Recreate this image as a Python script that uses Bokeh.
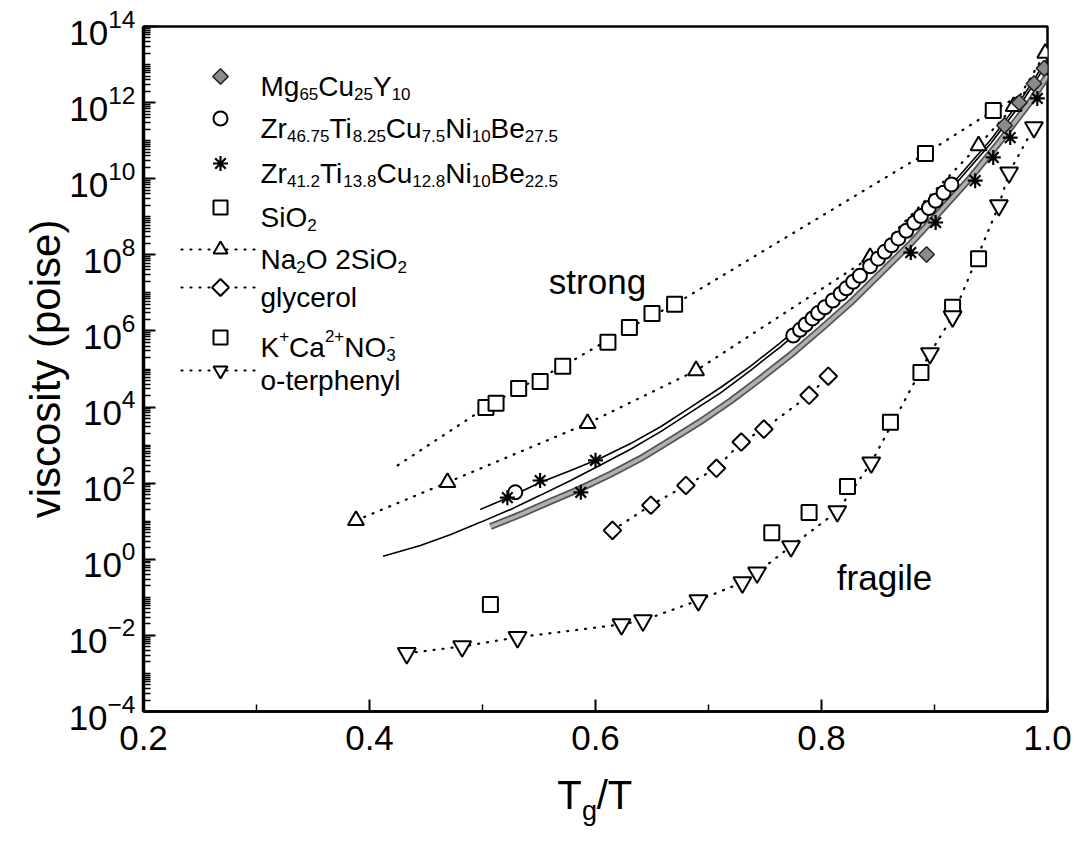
import numpy as np
from bokeh.plotting import figure
from bokeh.models import Range1d, FixedTicker, PrintfTickFormatter, Label, LinearAxis, CustomJSTickFormatter
from bokeh.core.properties import value
from bokeh.embed import file_html
from bokeh.resources import INLINE

FONT = "Liberation Sans"

# ---------------- data (x = Tg/T, values are log10 viscosity in poise) ----------------
mg_x = [0.893, 0.962, 0.975, 0.988, 0.997]
mg_log = [8.01, 11.4, 12.0, 12.5, 12.9]

mg_band_x = [0.507, 0.534, 0.560, 0.587, 0.613, 0.640, 0.666, 0.693, 0.720, 0.746, 0.773,
             0.799, 0.826, 0.852, 0.879, 0.905, 0.932, 0.958, 0.985, 1.0]
mg_band_log = [0.86, 1.18, 1.52, 1.86, 2.23, 2.65, 3.12, 3.62, 4.17, 4.75, 5.38,
               6.04, 6.75, 7.51, 8.30, 9.14, 10.03, 10.98, 12.03, 12.71]

vit4_x = [0.529, 0.775, 0.781, 0.786, 0.792, 0.797, 0.803, 0.810, 0.817, 0.822, 0.828, 0.834,
          0.843, 0.850, 0.856, 0.862, 0.868, 0.875, 0.882, 0.888, 0.895, 0.901, 0.908, 0.915]
vit4_log = [1.76, 5.88, 6.03, 6.17, 6.33, 6.47, 6.62, 6.80, 6.98, 7.12, 7.29, 7.45,
            7.70, 7.90, 8.08, 8.25, 8.43, 8.63, 8.84, 9.02, 9.23, 9.42, 9.63, 9.85]
vit4_fit_x = [0.412, 0.445, 0.472, 0.498, 0.525, 0.551, 0.578, 0.604, 0.631, 0.658, 0.684,
              0.711, 0.737, 0.764, 0.790, 0.817, 0.843, 0.870, 0.897, 0.923, 0.950, 0.976, 1.0]
vit4_fit_log = [0.08, 0.36, 0.65, 0.97, 1.31, 1.68, 2.07, 2.47, 2.89, 3.36, 3.86,
                4.38, 4.96, 5.59, 6.25, 6.93, 7.64, 8.38, 9.17, 10.01, 10.93, 11.95, 13.05]

vit1_x = [0.522, 0.551, 0.587, 0.600, 0.879, 0.901, 0.936, 0.952, 0.967, 0.991]
vit1_log = [1.62, 2.07, 1.76, 2.60, 8.06, 8.85, 9.95, 10.56, 11.08, 12.11]
vit1_fit_x = [0.498, 0.525, 0.551, 0.578, 0.604, 0.631, 0.658, 0.684, 0.711, 0.737, 0.764,
              0.790, 0.817, 0.843, 0.870, 0.897, 0.923, 0.950, 0.976, 1.0]
vit1_fit_log = [1.31, 1.65, 2.02, 2.33, 2.65, 3.04, 3.49, 3.99, 4.52, 5.07, 5.70,
                6.35, 7.04, 7.75, 8.48, 9.27, 10.11, 11.03, 12.06, 13.16]

sio2_x = [0.503, 0.512, 0.532, 0.551, 0.571, 0.611, 0.630, 0.650, 0.670, 0.892, 0.952]
sio2_log = [3.99, 4.10, 4.49, 4.67, 5.07, 5.70, 6.09, 6.46, 6.70, 10.66, 11.79]
sio2_fit_x = [0.425, 0.503, 0.532, 0.571, 0.630, 0.670, 0.892, 0.952, 1.0]
sio2_fit_log = [2.47, 3.99, 4.49, 5.07, 6.09, 6.70, 10.66, 11.79, 12.6]

na_x = [0.388, 0.469, 0.593, 0.689, 0.843, 0.939, 0.970, 0.998]
na_log = [1.02, 2.02, 3.57, 4.96, 7.93, 10.87, 11.9, 13.3]

gly_x = [0.615, 0.649, 0.680, 0.707, 0.729, 0.749, 0.789, 0.806]
gly_log = [0.76, 1.42, 1.94, 2.39, 3.08, 3.42, 4.31, 4.81]

kcn_x = [0.507, 0.756, 0.789, 0.823, 0.861, 0.888, 0.916, 0.939]
kcn_log = [-1.19, 0.70, 1.23, 1.91, 3.60, 4.91, 6.62, 7.90]

otp_x = [0.433, 0.482, 0.531, 0.623, 0.642, 0.691, 0.730, 0.743, 0.773, 0.814, 0.844,
         0.896, 0.916, 0.957, 0.966, 0.988]
otp_log = [-2.47, -2.29, -2.05, -1.71, -1.61, -1.08, -0.61, -0.35, 0.34, 1.26, 2.54,
           5.41, 6.38, 9.30, 10.16, 11.35]

y_major_exp = list(range(-4, 15, 2))
x_major = [0.2, 0.4, 0.6, 0.8, 1.0]
x_minor = [0.3, 0.5, 0.7, 0.9]

legend_rows = [
    [("Mg", "n"), ("65", "sub"), ("Cu", "n"), ("25", "sub"), ("Y", "n"), ("10", "sub")],
    [("Zr", "n"), ("46.75", "sub"), ("Ti", "n"), ("8.25", "sub"), ("Cu", "n"), ("7.5", "sub"),
     ("Ni", "n"), ("10", "sub"), ("Be", "n"), ("27.5", "sub")],
    [("Zr", "n"), ("41.2", "sub"), ("Ti", "n"), ("13.8", "sub"), ("Cu", "n"), ("12.8", "sub"),
     ("Ni", "n"), ("10", "sub"), ("Be", "n"), ("22.5", "sub")],
    [("SiO", "n"), ("2", "sub")],
    [("Na", "n"), ("2", "sub"), ("O 2SiO", "n"), ("2", "sub")],
    [("glycerol", "n")],
    [("K", "n"), ("+", "sup"), ("Ca", "n"), ("2+", "sup"), ("NO", "n"), ("3", "sub"), ("-", "supstack")],
    [("o-terphenyl", "n")],
]
legend_markers = ["mg", "circle", "asterisk", "square", "triangle", "diamond", "square", "inverted_triangle"]
legend_lines = [False, False, False, False, True, True, False, True]

# ---------------- layout ----------------
W, H = 1077, 847
FL, FR, FT, FB = 143, 1047, 26, 711


def xd(px):
    return 0.2 + (px - FL) * 0.8 / (FR - FL)


def yd(py):
    return 10 ** (14 - (py - FT) * 18.0 / (FB - FT))


def pw(a):
    return np.power(10.0, np.array(a, dtype=float))


p = figure(width=W, height=H, y_axis_type="log",
           x_range=Range1d(0.2, 1.0), y_range=Range1d(1e-4, 1e14),
           output_backend="svg", toolbar_location=None,
           min_border_left=FL, min_border_right=W - FR, min_border_top=FT, min_border_bottom=H - FB)
p.grid.visible = False
p.outline_line_color = "black"
p.outline_line_width = 2.5
p.background_fill_color = "white"
p.border_fill_color = "white"

p.yaxis.ticker = FixedTicker(
    ticks=[10.0 ** e for e in y_major_exp],
    minor_ticks=[k * 10.0 ** e for e in range(-4, 14) for k in range(1, 10) if not (k == 1 and e % 2 == 0)])
p.xaxis.ticker = FixedTicker(ticks=x_major, minor_ticks=x_minor)
p.xaxis.formatter = PrintfTickFormatter(format="%.1f")
for ax in (p.xaxis[0], p.yaxis[0]):
    ax.major_tick_in = 12
    ax.major_tick_out = 0
    ax.minor_tick_in = 7
    ax.minor_tick_out = 0
    ax.major_tick_line_width = 2
    ax.minor_tick_line_width = 1.5
    ax.axis_line_width = 2.5
    ax.major_label_text_font = FONT
    ax.major_label_text_font_size = "35px"
    ax.major_label_text_color = "black"
p.xaxis.axis_label = None
p.yaxis.axis_line_width = 3.5
p.yaxis.major_label_standoff = 8
p.xaxis.major_label_standoff = 14
p.yaxis.axis_label = "viscosity (poise)"
p.yaxis.axis_label_text_font = FONT
p.yaxis.axis_label_text_font_size = "42px"
p.yaxis.axis_label_text_font_style = "normal"
p.yaxis.axis_label_text_color = "black"
p.yaxis.axis_label_standoff = -3

# x-axis title "T_g/T" built from two extra label rows below the axis
xt_T, xt_g, xt_slash = xd(569), xd(589), xd(614)
axA = LinearAxis(ticker=FixedTicker(ticks=[xt_T, xt_slash]),
                 formatter=CustomJSTickFormatter(args=dict(c=xt_g), code="return tick < c ? 'T' : '/T'"),
                 axis_line_color=None, major_tick_line_color=None, minor_tick_line_color=None,
                 major_tick_in=0, major_tick_out=0, major_label_standoff=20,
                 major_label_text_font=FONT, major_label_text_font_size="40px", major_label_text_color="black")
axB = LinearAxis(ticker=FixedTicker(ticks=[xt_g]),
                 formatter=CustomJSTickFormatter(code="return 'g'"),
                 axis_line_color=None, major_tick_line_color=None, minor_tick_line_color=None,
                 major_tick_in=0, major_tick_out=0, major_label_standoff=-24,
                 major_label_text_font=FONT, major_label_text_font_size="27px", major_label_text_color="black")
p.add_layout(axA, "below")
p.add_layout(axB, "below")

DOT = dict(line_color="black", line_width=2.2, line_dash="1 8", line_cap="round")

# fits / curves
p.line(sio2_fit_x, pw(sio2_fit_log), **DOT)
p.line(na_x, pw(na_log), **DOT)
p.line(gly_x, pw(gly_log), **DOT)
p.line(otp_x, pw(otp_log), **DOT)
p.line(mg_band_x, pw(mg_band_log), line_color="#555555", line_width=7)
p.line(mg_band_x, pw(mg_band_log), line_color="#b0b0b0", line_width=3.5)
p.line(vit4_fit_x, pw(vit4_fit_log), line_color="black", line_width=1.6)
p.line(vit1_fit_x, pw(vit1_fit_log), line_color="black", line_width=1.6)

MK = dict(line_color="black", line_width=2, fill_color="white")
p.scatter(sio2_x, pw(sio2_log), marker="square", size=15, **MK)
p.scatter(kcn_x, pw(kcn_log), marker="square", size=15, **MK)
p.scatter(na_x, pw(na_log), marker="triangle", size=16, **MK)
p.scatter(gly_x, pw(gly_log), marker="square", angle=np.pi / 4, size=12.5, **MK)
p.scatter(otp_x, pw(otp_log), marker="inverted_triangle", size=18, **MK)
p.scatter(vit4_x, pw(vit4_log), marker="circle", size=14, **MK)
p.scatter(vit1_x, pw(vit1_log), marker="asterisk", size=15, line_color="black", line_width=2.2)
p.scatter(mg_x, pw(mg_log), marker="square", angle=np.pi / 4, size=11, line_color="#222222",
          line_width=1.5, fill_color="#8a8a8a")

# ---------------- legend (drawn by hand) ----------------
AW = {' ': 278, '+': 584, '-': 333, '.': 278, 'B': 667, 'C': 722, 'K': 667, 'M': 833, 'N': 722,
      'O': 778, 'S': 667, 'T': 611, 'Y': 667, 'Z': 611, 'a': 556, 'e': 556, 'g': 556, 'i': 222,
      'l': 222, 'n': 556, 'o': 556, 'p': 556, 'r': 333, 't': 278, 'u': 556, 'y': 500, 'c': 500,
      'h': 556}


def tw(s, size):
    return sum(AW.get(c, 556) for c in s) * size / 1000.0


row_py = [76, 118, 163, 207, 249, 287, 337, 370]
MX, TX = 220, 260
BIG, SMALL = 28, 17
big = dict(x=[], y=[], t=[])
small = dict(x=[], y=[], t=[])
for segs, py in zip(legend_rows, row_py):
    base = py + 10
    cur = TX
    prev = TX
    for s, kind in segs:
        if kind == "n":
            big["x"].append(xd(cur)); big["y"].append(yd(base)); big["t"].append(s)
            prev = cur
            cur += tw(s, BIG)
        elif kind == "sub":
            small["x"].append(xd(cur)); small["y"].append(yd(base + 7)); small["t"].append(s)
            prev = cur
            cur += tw(s, SMALL)
        elif kind == "sup":
            small["x"].append(xd(cur)); small["y"].append(yd(base - 12)); small["t"].append(s)
            prev = cur
            cur += tw(s, SMALL)
        else:  # superscript stacked over preceding subscript
            small["x"].append(xd(prev + 3)); small["y"].append(yd(base - 12)); small["t"].append(s)

p.text(x=big["x"], y=big["y"], text=big["t"], text_font=value(FONT), text_font_size="%dpx" % BIG,
       text_baseline="alphabetic", text_align="left", text_color="black")
p.text(x=small["x"], y=small["y"], text=small["t"], text_font=value(FONT), text_font_size="%dpx" % SMALL,
       text_baseline="alphabetic", text_align="left", text_color="black")

for mk, has_line, py in zip(legend_markers, legend_lines, row_py):
    if has_line:
        p.line([xd(181), xd(258)], [yd(py), yd(py)], **DOT)
    if mk == "mg":
        p.scatter([xd(MX)], [yd(py)], marker="square", angle=np.pi / 4, size=11, line_color="#222222",
                  line_width=1.5, fill_color="#8a8a8a")
    elif mk == "diamond":
        p.scatter([xd(MX)], [yd(py)], marker="square", angle=np.pi / 4, size=12, **MK)
    elif mk == "asterisk":
        p.scatter([xd(MX)], [yd(py)], marker="asterisk", size=15, line_color="black", line_width=2.2)
    else:
        p.scatter([xd(MX)], [yd(py)], marker=mk, size=14, **MK)

# ---------------- annotations ----------------
p.add_layout(Label(x=xd(597), y=yd(281), text="strong", text_font=FONT, text_font_size="35px",
                   text_color="black", text_align="center", text_baseline="alphabetic"))
p.add_layout(Label(x=xd(884), y=yd(577), text="fragile", text_font=FONT, text_font_size="35px",
                   text_color="black", text_align="center", text_baseline="alphabetic"))

open("out.html", "w").write(file_html(p, INLINE))
